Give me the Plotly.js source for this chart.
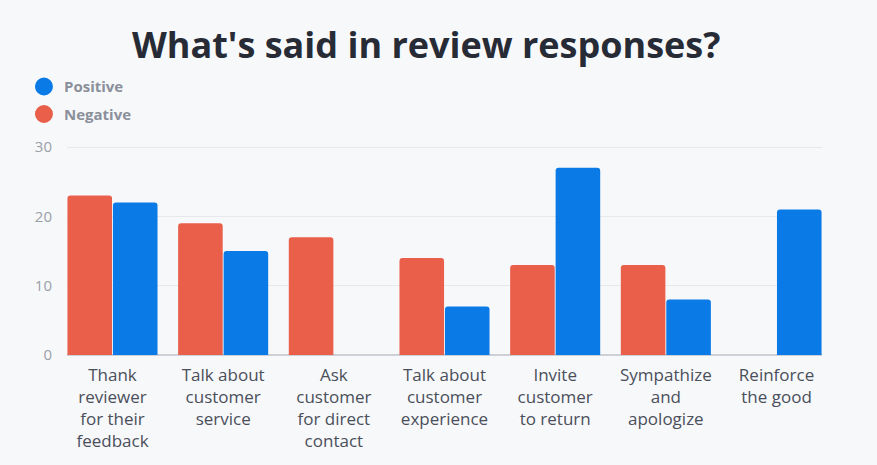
<!DOCTYPE html>
<html>
<head>
<meta charset="utf-8">
<script src="https://cdn.plot.ly/plotly-3.0.1.min.js"></script>
<style>html,body{margin:0;padding:0;background:#f7f8fa;}#chart{width:877px;height:465px;}</style>
</head>
<body>
<div id="chart"></div>
<script>
var categories = [
  "Thank<br>reviewer<br>for their<br>feedback",
  "Talk about<br>customer<br>service",
  "Ask<br>customer<br>for direct<br>contact",
  "Talk about<br>customer<br>experience",
  "Invite<br>customer<br>to return",
  "Sympathize<br>and<br>apologize",
  "Reinforce<br>the good"
];
var negativeValues = [23, 19, 17, 14, 13, 13, 0];
var positiveValues = [22, 15, 0, 7, 27, 8, 21];
var yTicks = [0, 10, 20, 30];

var RED = "#e95f4a", BLUE = "#0a7ae6";

var traces = [
  {type: "bar", name: "Negative", x: categories, y: negativeValues, marker: {color: RED, cornerradius: 3}, showlegend: false, hoverinfo: "y"},
  {type: "bar", name: "Positive", x: categories, y: positiveValues, marker: {color: BLUE, cornerradius: 3}, showlegend: false, hoverinfo: "y"},
  {type: "scatter", mode: "markers", name: "Positive", legendgroup: "p", x: [null], y: [null],
   marker: {color: BLUE, size: 20, symbol: "circle", line: {color: BLUE, width: 2}}},
  {type: "scatter", mode: "markers", name: "Negative", legendgroup: "n", x: [null], y: [null],
   marker: {color: RED, size: 20, symbol: "circle", line: {color: RED, width: 2}}}
];

var layout = {
  width: 877, height: 465,
  paper_bgcolor: "#f7f8fa", plot_bgcolor: "#f7f8fa",
  margin: {l: 67, r: 55, t: 145, b: 110, pad: 0},
  font: {family: "'Open Sans', Lato, sans-serif"},
  title: {text: "<b>What's said in review responses?</b>", x: 0.486, xanchor: "center", y: 0.903, yanchor: "middle",
          font: {family: "'Open Sans', Lato, sans-serif", size: 36, color: "#262b36", weight: 800}},
  barmode: "group", bargap: 0.178, bargroupgap: 0.02,
  xaxis: {type: "category", range: [-0.411, 6.411], tickfont: {size: 17, color: "#4a4f5a"}, showgrid: false, zeroline: false,
          showline: false, ticks: "", ticklabelstandoff: 8, fixedrange: true},
  yaxis: {range: [0, 30.3], tickvals: yTicks, ticktext: yTicks.map(String), tickfont: {size: 15, color: "#9aa0a8"},
          showgrid: true, gridcolor: "#e6e8ec", gridwidth: 1, zeroline: true, zerolinecolor: "#cdd0d6", zerolinewidth: 1.5,
          showline: false, ticks: "", ticklabelstandoff: 14, fixedrange: true},
  legend: {x: -0.057, y: 1.356, xanchor: "left", yanchor: "top", orientation: "v", bgcolor: "rgba(0,0,0,0)",
           font: {size: 15, color: "#8a8f9a", weight: 700}, itemsizing: "trace", traceorder: "grouped", tracegroupgap: 5},
  showlegend: true
};

Plotly.newPlot("chart", traces, layout, {displayModeBar: false, staticPlot: true});
</script>
</body>
</html>
